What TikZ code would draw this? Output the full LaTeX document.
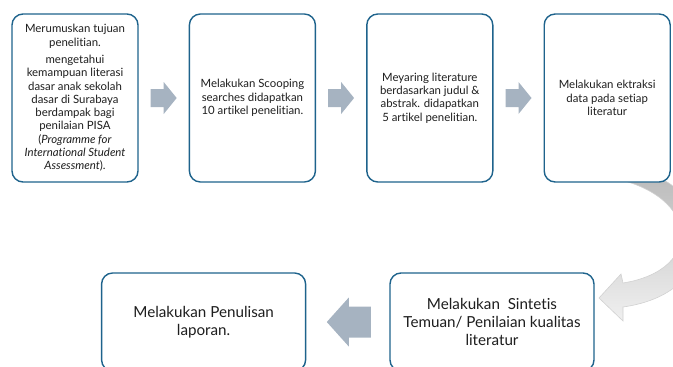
\documentclass[tikz,border=0pt]{standalone}
\usepackage{fontspec}
\setmainfont{Lato}[Ligatures=NoCommon]
\usetikzlibrary{positioning,calc}
\definecolor{boxblue}{RGB}{30,99,140}
\definecolor{arrowgray}{RGB}{166,179,193}
\definecolor{txtgray}{RGB}{30,30,30}

\begin{document}
\begin{tikzpicture}[x=1pt,y=-1pt,node distance=50pt,
    stage/.style={draw=boxblue,line width=1.4pt,rounded corners=11pt,fill=white,
      minimum width=126pt,minimum height=168pt,align=center,text=txtgray,
      font=\fontsize{11.4}{13.3}\selectfont,inner sep=2pt},
    bigstage/.style={stage,minimum width=204pt,minimum height=98pt,
      font=\fontsize{15.2}{17.7}\selectfont},
    flow/.style={fill=arrowgray,draw=none}]
  \useasboundingbox (0,0) rectangle (673,367);
  \clip (0,0) rectangle (673,367);
  % curved arrow from the last top box down to the bottom row
  \shade[top color=black!27,bottom color=black!6,draw=black!18,line width=0.6pt]
    (612,178) .. controls (700,195) and (705,270) .. (623,283) -- (621,274)
    -- (599,298) -- (623,321) -- (623,307)
    .. controls (730,292) and (715,185) .. (640,172) -- cycle;
  % top row
  \node[stage] (merumuskan) at (75,98) {Merumuskan tujuan\\ penelitian.\\[4pt]
    mengetahui\\ kemampuan literasi\\ dasar anak sekolah\\ dasar di Surabaya\\
    berdampak bagi\\ penilaian PISA\\ (\textit{Programme for}\\
    \textit{International Student}\\ \textit{Assessment}).};
  \node[stage] (scooping) [right=of merumuskan]
    {Melakukan Scooping\\ searches didapatkan\\ 10 artikel penelitian.};
  \node[stage] (meyaring) [right=of scooping]
    {Meyaring literature\\ berdasarkan judul \&\\ abstrak. didapatkan\\ 5 artikel penelitian.};
  \node[stage] (ekstraksi) [right=of meyaring]
    {Melakukan ektraksi\\ data pada setiap\\ literatur};
  % bottom row
  \node[bigstage] (sintetis) at (492,322)
    {Melakukan\ \ Sintetis\\ Temuan/ Penilaian kualitas\\ literatur};
  \node[bigstage] (penulisan) [left=83pt of sintetis]
    {Melakukan Penulisan\\ laporan.};
  % block arrows
  \foreach \a/\b in {merumuskan/scooping,scooping/meyaring,meyaring/ekstraksi}{
    \path (\a.east) -- (\b.west) coordinate[midway] (m);
    \fill[flow] ($(m)+(-13,-9)$) -- ($(m)+(0,-9)$) -- ($(m)+(0,-16)$)
      -- ($(m)+(13,0)$) -- ($(m)+(0,16)$) -- ($(m)+(0,9)$)
      -- ($(m)+(-13,9)$) -- cycle;
  }
  \path (sintetis.west) -- (penulisan.east) coordinate[midway] (m);
  \fill[flow] ($(m)+(23,-15.5)$) -- ($(m)+(1,-15.5)$) -- ($(m)+(1,-24.5)$)
    -- ($(m)+(-21,0)$) -- ($(m)+(1,24.5)$) -- ($(m)+(1,15.5)$)
    -- ($(m)+(23,15.5)$) -- cycle;
\end{tikzpicture}
\end{document}
